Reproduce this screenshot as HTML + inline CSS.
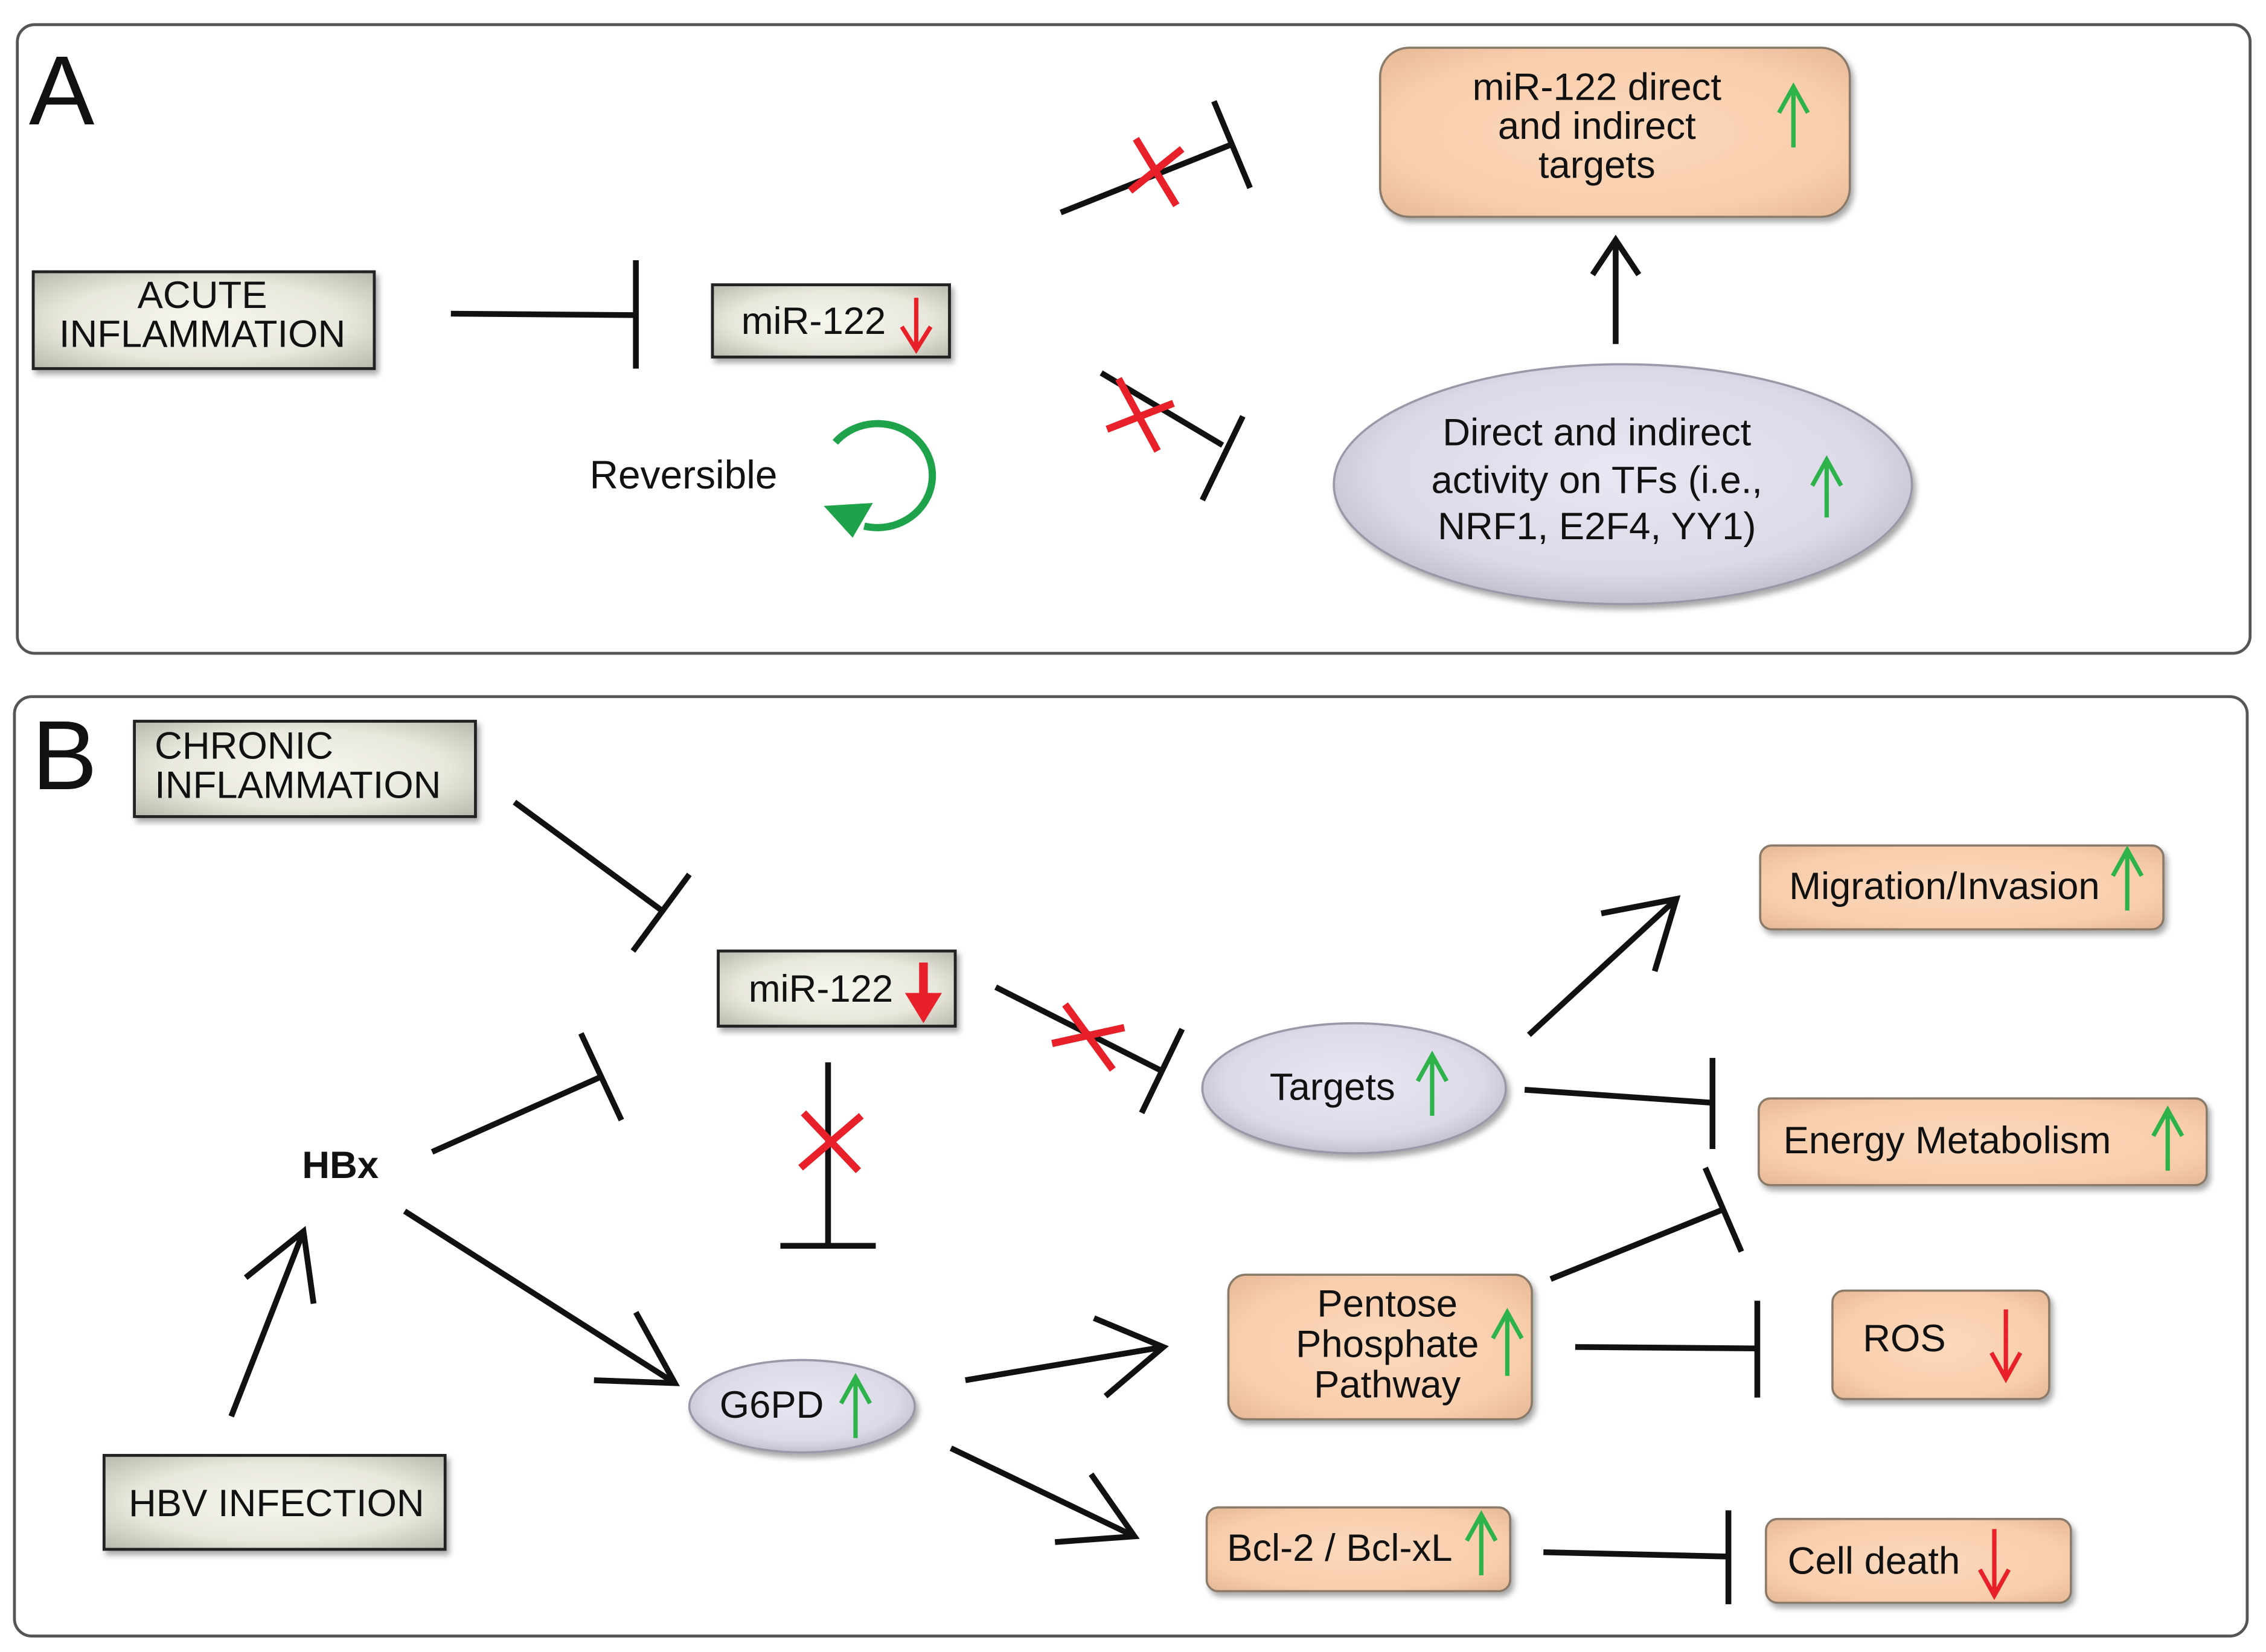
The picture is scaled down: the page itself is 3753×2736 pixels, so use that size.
<!DOCTYPE html>
<html><head><meta charset="utf-8"><style>
html,body{margin:0;padding:0;background:#fff;width:3753px;height:2736px;overflow:hidden}
svg{display:block}
text{font-family:"Liberation Sans",sans-serif;fill:#111}
</style></head><body>
<svg width="3753" height="2736" viewBox="0 0 1568 1143" xmlns="http://www.w3.org/2000/svg">
<defs>
<radialGradient id="gb" cx="50%" cy="50%" r="70%"><stop offset="0" stop-color="#f7f6ee"/><stop offset="0.6" stop-color="#e8e7dc"/><stop offset="1" stop-color="#b9b8ac"/></radialGradient>
<radialGradient id="pb" cx="50%" cy="50%" r="70%"><stop offset="0" stop-color="#fcd9bd"/><stop offset="0.7" stop-color="#f8cdab"/><stop offset="1" stop-color="#e5b896"/></radialGradient>
<radialGradient id="eb" cx="50%" cy="45%" r="60%"><stop offset="0" stop-color="#e9e7f3"/><stop offset="0.7" stop-color="#dcd9e8"/><stop offset="1" stop-color="#b9b6c6"/></radialGradient>
<filter id="sh" x="-10%" y="-10%" width="130%" height="140%"><feDropShadow dx="2" dy="3" stdDeviation="2" flood-color="#000" flood-opacity="0.35"/></filter>
</defs>
<g fill="none" stroke="#555" stroke-width="2">
<rect x="12" y="17" width="1545" height="435" rx="12"/>
<rect x="10" y="482" width="1545" height="650" rx="12"/>
</g>
<text x="20" y="86" font-size="68">A</text>
<text x="22" y="546" font-size="68">B</text>

<g fill="url(#gb)" stroke="#222" stroke-width="2" filter="url(#sh)">
<rect x="23" y="188" width="236" height="67"/>
<rect x="493" y="197" width="164" height="50"/>
<rect x="93" y="499" width="236" height="66"/>
<rect x="497" y="658" width="164" height="52"/>
<rect x="72" y="1007" width="236" height="65"/>
</g>
<g fill="url(#pb)" stroke="#8a7a6a" stroke-width="1.5" filter="url(#sh)">
<rect x="955" y="33" width="325" height="117" rx="20"/>
<rect x="1218" y="585" width="279" height="58" rx="8"/>
<rect x="1217" y="760" width="310" height="60" rx="8"/>
<rect x="1268" y="893" width="150" height="75" rx="8"/>
<rect x="1222" y="1051" width="211" height="58" rx="8"/>
<rect x="850" y="882" width="210" height="100" rx="12"/>
<rect x="835" y="1043" width="210" height="58" rx="8"/>
</g>
<g fill="url(#eb)" stroke="#9a98a8" stroke-width="1.5" filter="url(#sh)">
<ellipse cx="1123" cy="335" rx="200" ry="83"/>
<ellipse cx="937" cy="753" rx="105" ry="45"/>
<ellipse cx="555" cy="973" rx="78" ry="32"/>
</g>

<g font-size="26.5" text-anchor="middle">
<text x="140" y="213">ACUTE</text>
<text x="140" y="240">INFLAMMATION</text>
<text x="563" y="231">miR-122</text>
<text x="1105" y="69">miR-122 direct</text>
<text x="1105" y="96">and indirect</text>
<text x="1105" y="123">targets</text>
<text x="1105" y="308">Direct and indirect</text>
<text x="1105" y="341">activity on TFs (i.e.,</text>
<text x="1105" y="373">NRF1, E2F4, YY1)</text>
<text x="568" y="693">miR-122</text>
<text x="922" y="761">Targets</text>
<text x="534" y="981">G6PD</text>
<text x="960" y="911">Pentose</text>
<text x="960" y="939">Phosphate</text>
<text x="960" y="967">Pathway</text>
</g>
<g font-size="26.5">
<text x="408" y="338" font-size="27.5">Reversible</text>
<text x="107" y="525">CHRONIC</text>
<text x="107" y="552">INFLAMMATION</text>
<text x="89" y="1049">HBV INFECTION</text>
<text x="1238" y="622">Migration/Invasion</text>
<text x="1234" y="798">Energy Metabolism</text>
<text x="1289" y="935">ROS</text>
<text x="1237" y="1089">Cell death</text>
<text x="849" y="1080">Bcl-2 / Bcl-xL</text>
<text x="209" y="815" font-weight="bold">HBx</text>
</g>

<g stroke="#111" stroke-width="4" fill="none" stroke-linecap="butt">
<path d="M312 217 L440 218 M440 180 L440 255"/>
<path d="M734 147 L852 100 M840 70 L865 130"/>
<path d="M762 258 L846 308 M860 288 L832 346"/>
<path d="M1118 238 L1118 168 M1102 190 L1118 166 L1134 190"/>
<path d="M356 555 L458 630 M477 605 L438 658"/>
<path d="M299 797 L416 745 M402 715 L430 775"/>
<path d="M573 735 L573 862 M540 862 L606 862"/>
<path d="M689 683 L804 741 M818 712 L790 770"/>
<path d="M160 980 L210 852 M170 884 L210 852 L217 902"/>
<path d="M280 838 L467 957 M411 955 L467 957 L440 908"/>
<path d="M1058 716 L1160 622 M1108 632 L1160 622 L1145 672"/>
<path d="M1055 754 L1185 763 M1185 732 L1185 795"/>
<path d="M1073 885 L1192 837 M1180 808 L1205 866"/>
<path d="M1090 932 L1216 933 M1216 900 L1216 967"/>
<path d="M668 955 L805 932 M757 912 L805 932 L765 966"/>
<path d="M658 1002 L785 1063 M755 1020 L785 1063 L730 1067"/>
<path d="M1068 1074 L1196 1077 M1196 1045 L1196 1110"/>
</g>

<g stroke="#e8202a" stroke-width="5" fill="none">
<path d="M786 96 L814 142 M782 132 L818 103"/>
<path d="M774 262 L801 312 M766 297 L812 279"/>
<path d="M556 770 L594 810 M554 808 L596 772"/>
<path d="M737 695 L770 740 M728 722 L778 711"/>
</g>
<g stroke="#e8202a" fill="none" stroke-width="3">
<path d="M634 206 L634 240 M624 226 L634 242 L644 226"/>
<path d="M1388 906 L1388 952 M1378 936 L1388 954 L1398 936"/>
<path d="M1380 1058 L1380 1102 M1370 1086 L1380 1104 L1390 1086"/>
</g>
<path d="M639 666 L639 692" stroke="#e8202a" stroke-width="6"/>
<path d="M628 688 L639 706 L650 688 Z" fill="#e8202a" stroke="#e8202a" stroke-width="2"/>
<g stroke="#2db34a" fill="none" stroke-width="3">
<path d="M1241 102 L1241 62 M1231 78 L1241 60 L1251 78"/>
<path d="M1264 358 L1264 320 M1254 336 L1264 318 L1274 336"/>
<path d="M1472 630 L1472 590 M1462 606 L1472 588 L1482 606"/>
<path d="M1500 810 L1500 770 M1490 786 L1500 768 L1510 786"/>
<path d="M991 772 L991 732 M981 748 L991 730 L1001 748"/>
<path d="M1043 952 L1043 910 M1033 926 L1043 908 L1053 926"/>
<path d="M592 995 L592 955 M582 971 L592 953 L602 971"/>
<path d="M1025 1090 L1025 1050 M1015 1066 L1025 1048 L1035 1066"/>
</g>
<path d="M578 306 A38 36 0 1 1 598 364" stroke="#1ea34a" stroke-width="5" fill="none"/>
<path d="M570 350 L604 348 L590 372 Z" fill="#1ea34a"/>
</svg>
</body></html>
